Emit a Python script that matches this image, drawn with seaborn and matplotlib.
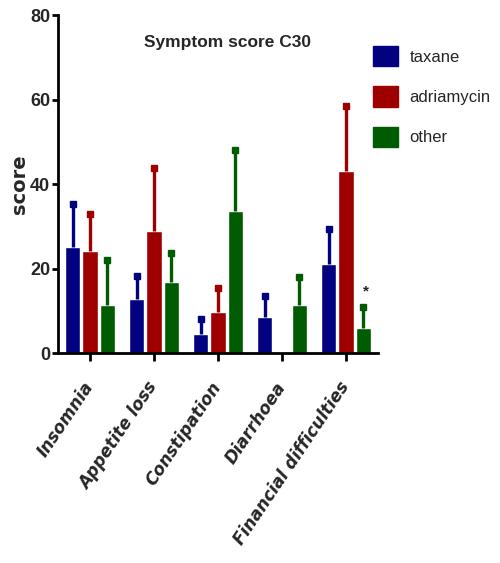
import matplotlib
matplotlib.use("Agg")
import matplotlib.pyplot as plt
import seaborn as sns
import pandas as pd
import numpy as np
from matplotlib.patches import Patch

categories = ["Insomnia", "Appetite loss", "Constipation", "Diarrhoea", "Financial difficulties"]
groups = ["taxane", "adriamycin", "other"]
taxane_mean = [25.2, 12.8, 4.5, 8.6, 21.1]
taxane_err = [10.0, 5.5, 3.5, 4.9, 8.3]
adriamycin_mean = [24.2, 28.9, 9.8, 0.0, 43.2]
adriamycin_err = [8.8, 14.8, 5.7, 0.0, 15.3]
other_mean = [11.4, 16.9, 33.6, 11.4, 5.9]
other_err = [10.6, 6.9, 14.5, 6.6, 5.0]
colors = ["#020280", "#9e0000", "#005c00"]

rows = []
for g, m, e in zip(groups, [taxane_mean, adriamycin_mean, other_mean],
                   [taxane_err, adriamycin_err, other_err]):
    for c, mv, ev in zip(categories, m, e):
        rows.append({"category": c, "group": g, "score": mv, "err": ev})
df = pd.DataFrame(rows)

sns.set_theme(style="white")
plt.rcParams["font.family"] = ["Liberation Sans", "DejaVu Sans"]

fig = plt.figure(figsize=(5.0, 5.63), dpi=100)
ax = fig.add_axes([0.116, 0.373, 0.64, 0.600])

sns.barplot(data=df, x="category", y="score", hue="group", order=categories,
            hue_order=groups, palette=colors, width=0.8, gap=0.12,
            errorbar=None, legend=False, ax=ax, saturation=1)

# error bars (upper only) from bar patch positions
for gi, (g, col) in enumerate(zip(groups, colors)):
    sub = df[df.group == g]
    for k, (mv, ev) in enumerate(zip(sub.score, sub.err)):
        p = ax.patches[gi * len(categories) + k]
        if ev <= 0:
            continue
        xc = p.get_x() + p.get_width() / 2
        ax.vlines(xc, mv, mv + ev, colors=col, linewidth=2.4, zorder=3)
        ax.plot([xc], [mv + ev], marker="s", ms=4.2, color=col, mec=col, zorder=4)

# significance marker
fin_idx = categories.index("Financial difficulties")
p = ax.patches[2 * len(categories) + fin_idx]
ax.text(p.get_x() + p.get_width() / 2 + 0.04, other_mean[fin_idx] + other_err[fin_idx] + 2.0, "*",
        ha="center", va="bottom", fontsize=11, fontweight="bold")

ax.set_ylim(0, 80)
ax.set_xlim(-0.5, 4.5)
ax.set_yticks([0, 20, 40, 60, 80])
ax.set_yticklabels(["0", "20", "40", "60", "80"], fontsize=13, fontweight="bold")
ax.set_xticks(range(len(categories)))
ax.set_xticklabels(categories, rotation=56, ha="right", va="center",
                   rotation_mode="anchor",
                   fontsize=12.2, fontweight="bold", style="italic",
                   family=["DejaVu Sans"])
ax.set_xlabel("")
ax.set_ylabel("score", fontsize=14, fontweight="bold",
              family=["DejaVu Sans"])
ax.yaxis.set_label_coords(-0.092, 0.5)

for s in ["top", "right"]:
    ax.spines[s].set_visible(False)
for s in ["left", "bottom"]:
    ax.spines[s].set_color("black")
    ax.spines[s].set_linewidth(2)
ax.tick_params(axis="y", direction="out", length=4, width=2, color="black",
               left=True, pad=1.5)
ax.tick_params(axis="x", direction="out", length=6, width=2, color="black",
               bottom=True, pad=16)

ax.text(0.53, 0.92, "Symptom score C30", transform=ax.transAxes, ha="center",
        va="center", fontsize=12.5, fontweight="bold",
        family=["Liberation Sans", "DejaVu Sans"])

handles = [Patch(facecolor=c, edgecolor=c) for c in colors]
fig.legend(handles, groups, loc="upper left", bbox_to_anchor=(0.746, 0.918),
           frameon=False, fontsize=12, handlelength=1.5, handleheight=1.5,
           labelspacing=1.2, handletextpad=0.7, borderpad=0, borderaxespad=0)

fig.savefig("out.png", dpi=100)
